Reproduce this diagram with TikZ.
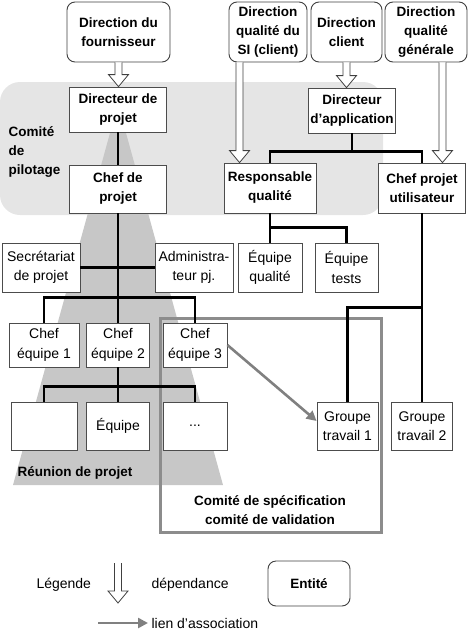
\documentclass[tikz,border=0pt]{standalone}
\usepackage{fontspec}
\setmainfont{Liberation Sans}
\usetikzlibrary{arrows.meta,calc}

\definecolor{bandgray}{gray}{0.9}
\definecolor{meetgray}{gray}{0.78}
\definecolor{framegray}{gray}{0.55}

% hollow dependency arrow, drawn straight down from #1 to the level of #2
\newcommand{\dependance}[2]{%
  \draw[deparrow] let \p1=(#1), \p2=(#2) in
    (\x1-3.5pt,\y1) -- (\x1-3.5pt,\y2+12pt) -- (\x1-10pt,\y2+12pt) -- (\x1,\y2)
    -- (\x1+10pt,\y2+12pt) -- (\x1+3.5pt,\y2+12pt) -- (\x1+3.5pt,\y1);}

\begin{document}
\begin{tikzpicture}[x=1pt, y=-1pt, >=Latex,
    every node/.style={font=\fontsize{14}{19.5}\selectfont, align=center},
    entity/.style={draw=black!75, fill=white, rounded corners=8pt, line width=0.9pt, font=\fontsize{13.5}{19}\selectfont\bfseries},
    role/.style={draw=black!70, fill=white, line width=0.8pt, inner sep=2pt},
    boldrole/.style={role, font=\fontsize{13.5}{19}\selectfont\bfseries},
    label/.style={font=\fontsize{13.5}{19}\selectfont\bfseries},
    tree/.style={line width=2.4pt},
    assoc/.style={draw=black!50, line width=2.6pt, -{Triangle[length=10pt,width=10pt]}},
    deparrow/.style={draw=black!75, fill=white, line width=0.8pt}]
  \useasboundingbox (0,0) rectangle (470,638);

  % committees in the background
  \fill[bandgray, rounded corners=20pt] (0,82) rectangle (383,215);
  \fill[meetgray] (110,133) -- (126,133) -- (223,485) -- (13,485) -- cycle;
  \draw[framegray, line width=3pt] (160,318) rectangle (381,532);

  % entities
  \node[entity, minimum width=103, minimum height=60] (fourn) at (118.5,32) {Direction du\\fournisseur};
  \node[entity, minimum width=78, minimum height=60] (dqsi) at (268,32) {Direction\\qualité du\\SI (client)};
  \node[entity, minimum width=71, minimum height=60] (dclient) at (346.5,32) {Direction\\client};
  \node[entity, minimum width=82, minimum height=60] (dqg) at (426,32) {Direction\\qualité\\générale};

  % roles
  \node[boldrole, minimum width=97, minimum height=45] (dirproj) at (118,109.5) {Directeur de\\projet};
  \node[boldrole, minimum width=97, minimum height=48] (chefproj) at (118,189) {Chef de\\projet};
  \node[boldrole, minimum width=87, minimum height=45] (dirapp) at (352,110.5) {Directeur\\d'application};
  \node[boldrole, minimum width=92, minimum height=50] (respq) at (270,188) {Responsable\\qualité};
  \node[boldrole, minimum width=87, minimum height=50] (cpu) at (422,188) {Chef projet\\utilisateur};

  \node[role, minimum width=78, minimum height=49] (secr) at (41,267.5) {Secrétariat\\de projet};
  \node[role, minimum width=78, minimum height=49] (admin) at (194,267.5) {Administra-\\teur pj.};
  \node[role, minimum width=64, minimum height=49] (eqq) at (270,267.5) {Équipe\\qualité};
  \node[role, minimum width=63, minimum height=49] (eqt) at (346.5,267.5) {Équipe\\tests};

  \node[role, minimum width=70, minimum height=44] (ce1) at (44,345) {Chef\\équipe 1};
  \node[role, minimum width=63, minimum height=44] (ce2) at (118,345) {Chef\\équipe 2};
  \node[role, minimum width=64, minimum height=44] (ce3) at (195,345) {Chef\\équipe 3};

  \node[role, minimum width=66, minimum height=48] (eq1) at (44,426) {};
  \node[role, minimum width=63, minimum height=48] (eq2) at (118,426) {Équipe};
  \node[role, minimum width=64, minimum height=48] (eq3) at (195,426) {...};
  \node[role, minimum width=61, minimum height=48] (gt1) at (347.5,426) {Groupe\\travail 1};
  \node[role, minimum width=61, minimum height=48] (gt2) at (422,426) {Groupe\\travail 2};

  % committee names
  \node[label, align=left, anchor=west] (pilotage) at (5,152) {Comité\\de\\pilotage};
  \node[label, anchor=west] (reunion) at (14,473) {Réunion de projet};
  \node[label] (comspec) at (270,510) {Comité de spécification\\comité de validation};

  % hierarchy
  \draw[tree] (dirproj) -- (chefproj);
  \draw[tree] (chefproj) -- (ce2);
  \draw[tree] (secr) -- (admin);
  \draw[tree] (ce1.north) -- ++(0,-25) -| (ce3.north);
  \draw[tree] (ce2) -- (eq2);
  \draw[tree] (eq1.north) -- ++(0,-15) -| (eq3.north);
  \draw[tree] (dirapp.south) -- ++(0,19);
  \draw[tree] (respq.north) -- ++(0,-11) -| (cpu.north);
  \draw[tree] (respq.south) -- ++(0,15);
  \draw[tree] (eqq.north) -- ++(0,-15) -| (eqt.north);
  \draw[tree] (cpu) -- (gt2);
  \draw[tree] (gt1.north) -- ++(0,-94) -| (cpu.south);

  % dependencies
  \dependance{fourn.south}{dirproj.north}
  \dependance{$(dqsi.south west)+(11,0)$}{respq.north}
  \dependance{dclient.south}{dirapp.north}
  \dependance{$(dqg.south east)+(-25,0)$}{cpu.north}

  % association
  \draw[assoc] (ce3.east) -- ([yshift=5pt]gt1.west);

  % legend
  \node[anchor=west] (legende) at (33,585) {Légende};
  \coordinate (legtop) at (118,563);
  \coordinate (legbot) at (118,603);
  \dependance{legtop}{legbot}
  \node[anchor=west] (dep) at (148,585) {dépendance};
  \node[entity, minimum width=82, minimum height=45] (entite) at (309,583.5) {Entité};
  \coordinate (assocstart) at (98,623);
  \node[anchor=west] (lien) at (148,623) {lien d'association};
  \draw[assoc] (assocstart) -- (lien.west);
\end{tikzpicture}
\end{document}
